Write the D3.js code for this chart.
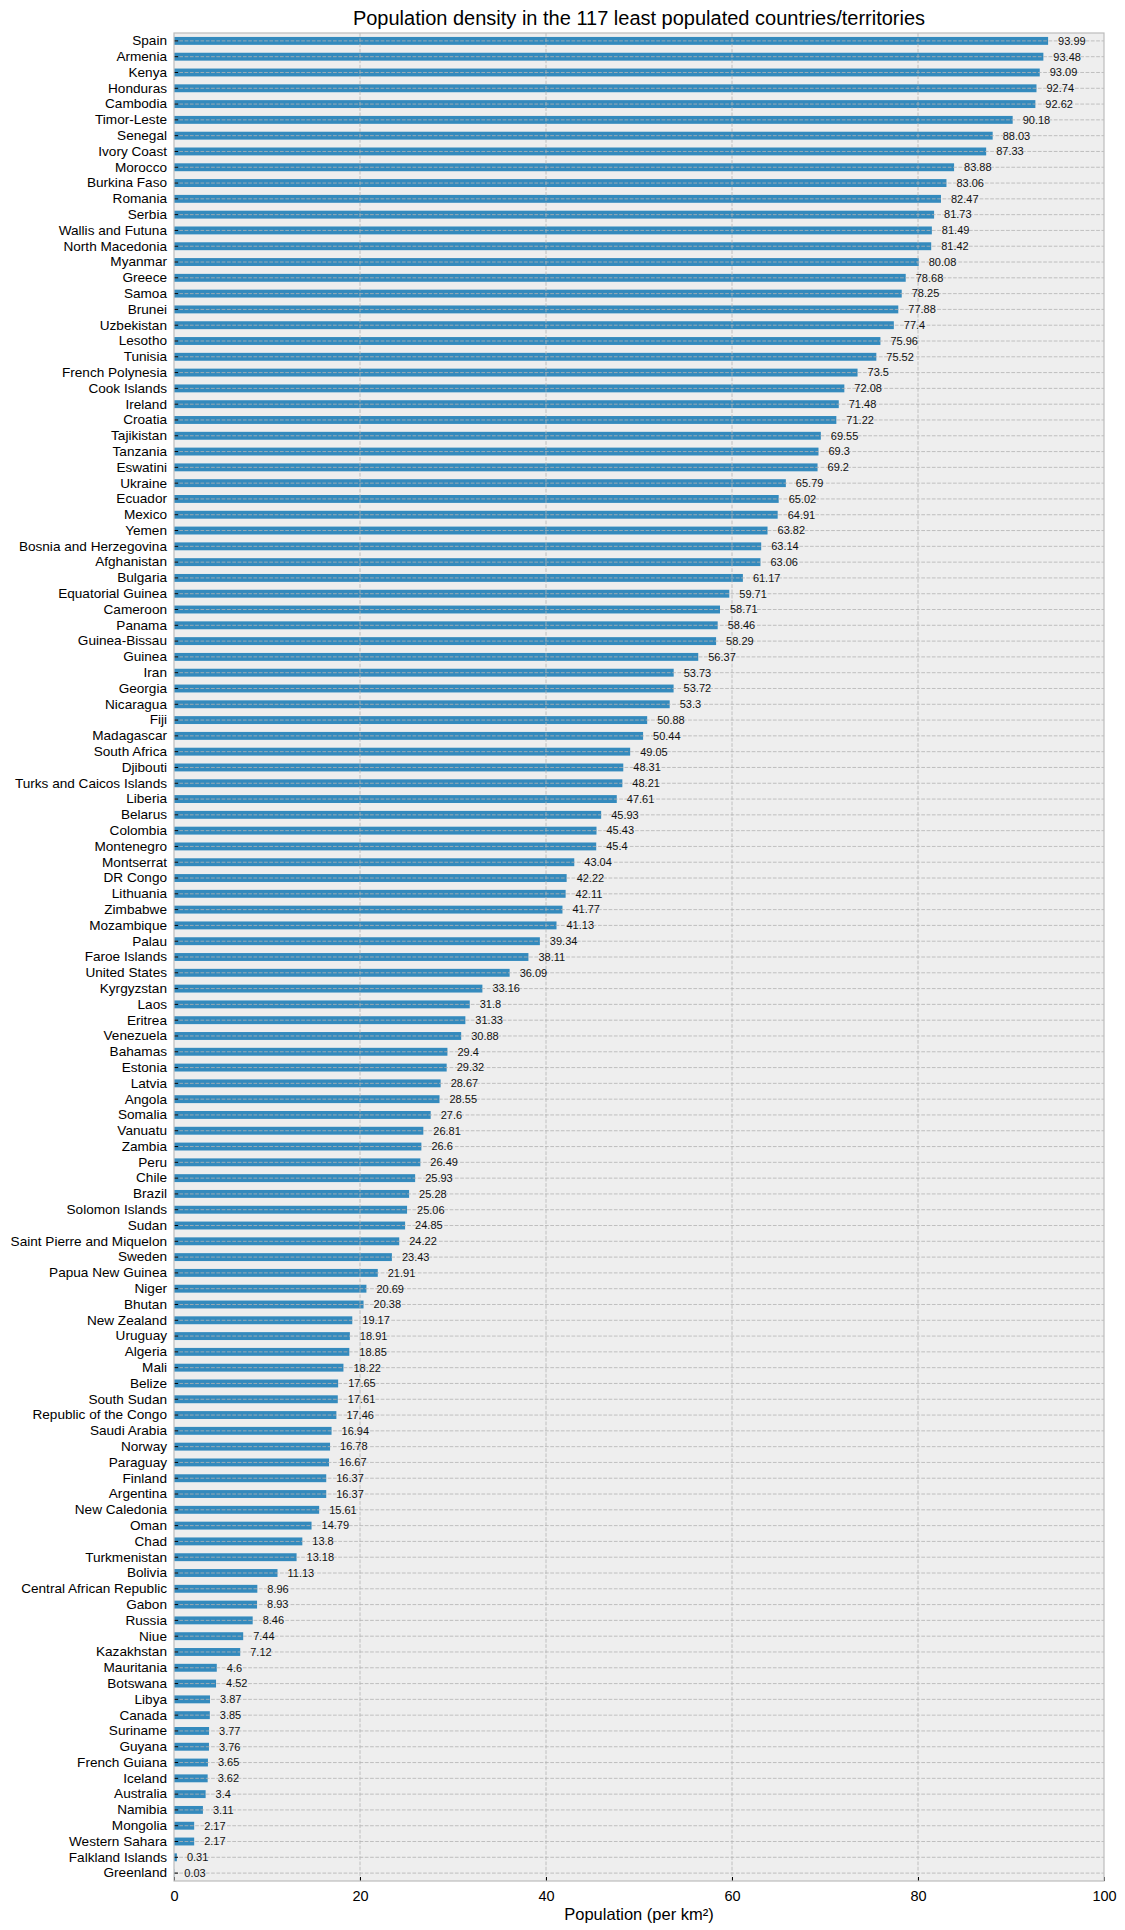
<!DOCTYPE html>
<html>
<head>
<meta charset="utf-8">
<script src="https://cdn.jsdelivr.net/npm/d3@7"></script>
<style>
  body { margin: 0; background: #fff; }
  svg { font-family: "Liberation Sans", Arial, Helvetica, sans-serif; }
</style>
</head>
<body>
<div id="chart"></div>
<script>
const countries = [
  "Spain", "Armenia", "Kenya", "Honduras", "Cambodia", "Timor-Leste", "Senegal", "Ivory Coast",
  "Morocco", "Burkina Faso", "Romania", "Serbia", "Wallis and Futuna", "North Macedonia", "Myanmar",
  "Greece", "Samoa", "Brunei", "Uzbekistan", "Lesotho", "Tunisia", "French Polynesia", "Cook Islands",
  "Ireland", "Croatia", "Tajikistan", "Tanzania", "Eswatini", "Ukraine", "Ecuador", "Mexico", "Yemen",
  "Bosnia and Herzegovina", "Afghanistan", "Bulgaria", "Equatorial Guinea", "Cameroon", "Panama",
  "Guinea-Bissau", "Guinea", "Iran", "Georgia", "Nicaragua", "Fiji", "Madagascar", "South Africa",
  "Djibouti", "Turks and Caicos Islands", "Liberia", "Belarus", "Colombia", "Montenegro", "Montserrat",
  "DR Congo", "Lithuania", "Zimbabwe", "Mozambique", "Palau", "Faroe Islands", "United States",
  "Kyrgyzstan", "Laos", "Eritrea", "Venezuela", "Bahamas", "Estonia", "Latvia", "Angola", "Somalia",
  "Vanuatu", "Zambia", "Peru", "Chile", "Brazil", "Solomon Islands", "Sudan", "Saint Pierre and Miquelon",
  "Sweden", "Papua New Guinea", "Niger", "Bhutan", "New Zealand", "Uruguay", "Algeria", "Mali", "Belize",
  "South Sudan", "Republic of the Congo", "Saudi Arabia", "Norway", "Paraguay", "Finland", "Argentina",
  "New Caledonia", "Oman", "Chad", "Turkmenistan", "Bolivia", "Central African Republic", "Gabon",
  "Russia", "Niue", "Kazakhstan", "Mauritania", "Botswana", "Libya", "Canada", "Suriname", "Guyana",
  "French Guiana", "Iceland", "Australia", "Namibia", "Mongolia", "Western Sahara", "Falkland Islands",
  "Greenland"
];

const density = [
  93.99, 93.48, 93.09, 92.74, 92.62, 90.18, 88.03, 87.33,
  83.88, 83.06, 82.47, 81.73, 81.49, 81.42, 80.08,
  78.68, 78.25, 77.88, 77.4, 75.96, 75.52, 73.5, 72.08,
  71.48, 71.22, 69.55, 69.3, 69.2, 65.79, 65.02, 64.91, 63.82,
  63.14, 63.06, 61.17, 59.71, 58.71, 58.46,
  58.29, 56.37, 53.73, 53.72, 53.3, 50.88, 50.44, 49.05,
  48.31, 48.21, 47.61, 45.93, 45.43, 45.4, 43.04,
  42.22, 42.11, 41.77, 41.13, 39.34, 38.11, 36.09,
  33.16, 31.8, 31.33, 30.88, 29.4, 29.32, 28.67, 28.55, 27.6,
  26.81, 26.6, 26.49, 25.93, 25.28, 25.06, 24.85, 24.22,
  23.43, 21.91, 20.69, 20.38, 19.17, 18.91, 18.85, 18.22, 17.65,
  17.61, 17.46, 16.94, 16.78, 16.67, 16.37, 16.37,
  15.61, 14.79, 13.8, 13.18, 11.13, 8.96, 8.93,
  8.46, 7.44, 7.12, 4.6, 4.52, 3.87, 3.85, 3.77, 3.76,
  3.65, 3.62, 3.4, 3.11, 2.17, 2.17, 0.31,
  0.03
];

const xTicks = [0, 20, 40, 60, 80, 100];

const title = "Population density in the 117 least populated countries/territories";
const xLabel = "Population (per km²)";

const width = 1125, height = 1930;
const margin = {top: 33, right: 21, bottom: 49, left: 174};
const innerW = width - margin.left - margin.right;
const innerH = height - margin.top - margin.bottom;

const data = countries.map((c, i) => ({country: c, value: density[i]}));

const svg = d3.select("#chart").append("svg")
  .attr("width", width)
  .attr("height", height);

const x = d3.scaleLinear().domain([0, 100]).range([0, innerW]);
const y = d3.scaleBand().domain(countries).range([0, innerH]).paddingInner(0).paddingOuter(0);

const g = svg.append("g")
  .attr("transform", "translate(" + margin.left + "," + margin.top + ")");

// background
g.append("rect")
  .attr("width", innerW)
  .attr("height", innerH)
  .attr("fill", "#eeeeee");

// bars
const barH = y.bandwidth() * 0.5;
g.selectAll(".bar")
  .data(data)
  .enter()
  .append("rect")
  .attr("class", "bar")
  .attr("x", x(0))
  .attr("y", d => y(d.country) + (y.bandwidth() - barH) / 2)
  .attr("width", d => x(d.value) - x(0))
  .attr("height", barH)
  .attr("fill", "#348ABD");

// grid (drawn above bars)
const grid = g.append("g").attr("class", "grid");
grid.selectAll(".vgrid")
  .data(xTicks.slice(1, -1))
  .enter()
  .append("line")
  .attr("x1", d => x(d)).attr("x2", d => x(d))
  .attr("y1", 0).attr("y2", innerH)
  .attr("stroke", "#b2b2b2")
  .attr("stroke-width", 0.8)
  .attr("stroke-dasharray", "3.7,1.6");
grid.selectAll(".hgrid")
  .data(countries)
  .enter()
  .append("line")
  .attr("x1", 0).attr("x2", innerW)
  .attr("y1", d => y(d) + y.bandwidth() / 2)
  .attr("y2", d => y(d) + y.bandwidth() / 2)
  .attr("stroke", "#b2b2b2")
  .attr("stroke-width", 0.8)
  .attr("stroke-dasharray", "3.7,1.6");

// value labels
g.selectAll(".val")
  .data(data)
  .enter()
  .append("text")
  .attr("x", d => x(d.value) + 10)
  .attr("y", d => y(d.country) + y.bandwidth() / 2)
  .attr("dy", "0.35em")
  .attr("font-size", 11)
  .attr("fill", "#111")
  .text(d => d.value);

// y axis
const yAxis = g.append("g")
  .call(d3.axisLeft(y).tickSizeInner(-4).tickSizeOuter(0).tickPadding(7));
yAxis.select(".domain").remove();
yAxis.selectAll(".tick line").attr("stroke", "#000").attr("stroke-width", 1);
yAxis.selectAll(".tick text")
  .attr("font-size", 13.6)
  .attr("fill", "#000")
  .attr("font-family", "Liberation Sans, Arial, sans-serif");

// x axis
const xAxis = g.append("g")
  .attr("transform", "translate(0," + innerH + ")")
  .call(d3.axisBottom(x).tickValues(xTicks).tickSizeInner(-4).tickSizeOuter(0).tickPadding(10));
xAxis.select(".domain").remove();
xAxis.selectAll(".tick line").attr("stroke", "#000").attr("stroke-width", 1);
xAxis.selectAll(".tick text")
  .attr("font-size", 14.5)
  .attr("fill", "#000")
  .attr("font-family", "Liberation Sans, Arial, sans-serif");

// frame
g.append("rect")
  .attr("width", innerW)
  .attr("height", innerH)
  .attr("fill", "none")
  .attr("stroke", "#bcbcbc")
  .attr("stroke-width", 1.2);

// title
svg.append("text")
  .attr("x", margin.left + innerW / 2)
  .attr("y", 25)
  .attr("text-anchor", "middle")
  .attr("font-size", 20)
  .attr("fill", "#000")
  .text(title);

// x label
svg.append("text")
  .attr("x", margin.left + innerW / 2)
  .attr("y", height - 10)
  .attr("text-anchor", "middle")
  .attr("font-size", 16.5)
  .attr("fill", "#000")
  .text(xLabel);
</script>
</body>
</html>
